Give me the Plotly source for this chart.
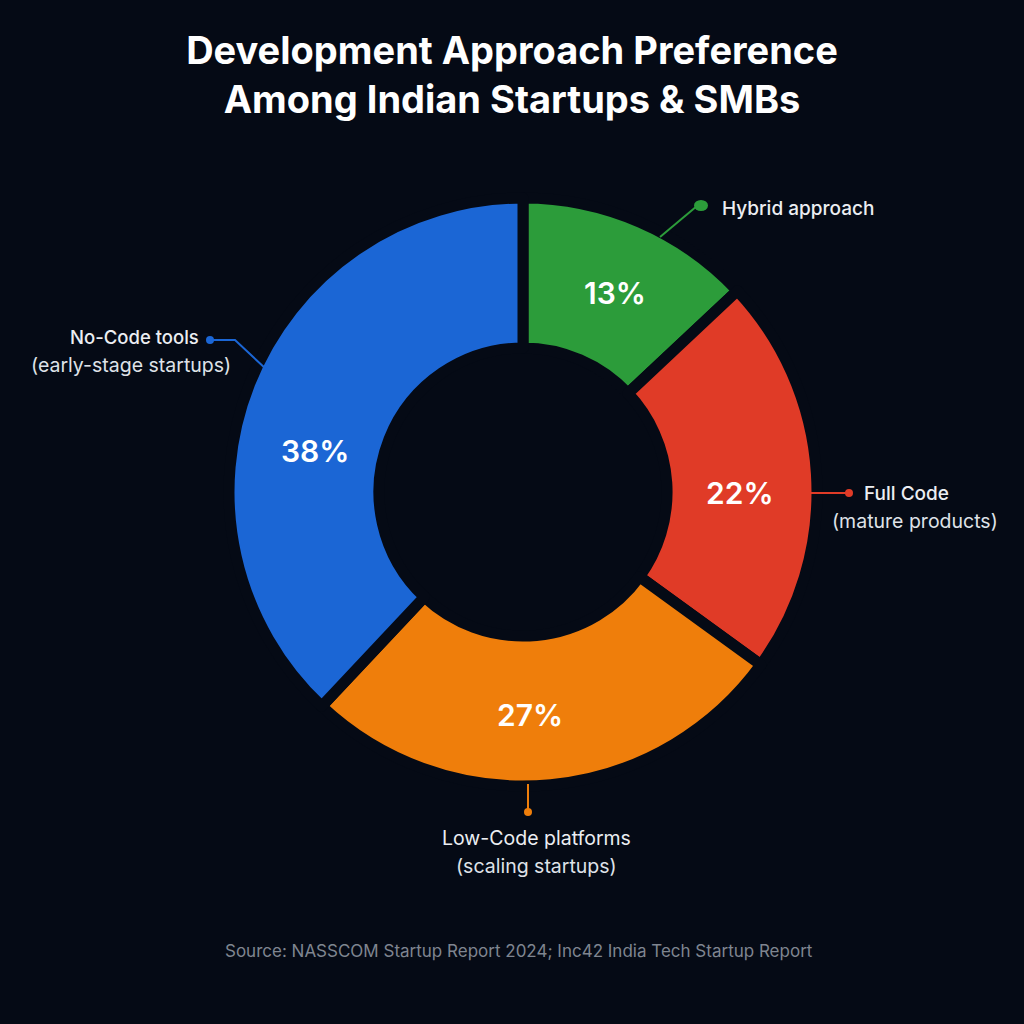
import plotly.graph_objects as go

# ---- data ----
categories = ["Hybrid approach", "Full Code", "Low-Code platforms", "No-Code tools"]
subtitles = ["", "(mature products)", "(scaling startups)", "(early-stage startups)"]
values = [13, 22, 27, 38]
colors = ["#2c9c3a", "#e03b27", "#ef7e0b", "#1b66d5"]

BG = "#050a15"
W = H = 1024

cx, cy, R = 523, 492, 294


def px(x):
    return x / W


def py(y):
    return 1 - y / H


fig = go.Figure()
fig.add_trace(go.Pie(
    labels=categories,
    values=values,
    sort=False,
    direction="clockwise",
    rotation=0,
    hole=0.49,
    marker=dict(colors=colors, line=dict(color=BG, width=11)),
    textinfo="none",
    domain=dict(x=[px(cx - R), px(cx + R)], y=[py(cy + R), py(cy - R)]),
    showlegend=False,
    hoverinfo="label+value",
))

shapes = []
annotations = []

# percentage labels inside the ring (text from values)
pct_pos = [(615, 293), (740, 493), (530, 715), (315, 451)]
for v, (x, y) in zip(values, pct_pos):
    annotations.append(dict(x=px(x), y=py(y), xref="paper", yref="paper",
                            xanchor="center", yanchor="middle", showarrow=False,
                            text=f"{v}%",
                            font=dict(family="Inter", size=30, color="white", weight=600)))

line_w = 2
LBL = "#eceef2"
SUB = "#dfe2e8"

# Hybrid leader
shapes.append(dict(type="line", xref="paper", yref="paper",
                   x0=px(660), y0=py(237), x1=px(697), y1=py(206),
                   line=dict(color=colors[0], width=line_w)))
shapes.append(dict(type="circle", xref="paper", yref="paper",
                   x0=px(694), y0=py(200), x1=px(708), y1=py(211),
                   fillcolor=colors[0], line=dict(width=0)))
annotations.append(dict(x=px(720), y=py(208), xref="paper", yref="paper",
                        xanchor="left", yanchor="middle", showarrow=False,
                        text=categories[0],
                        font=dict(family="Inter", size=19, color=LBL, weight=500)))

# Full Code leader
shapes.append(dict(type="line", xref="paper", yref="paper",
                   x0=px(806), y0=py(493), x1=px(849), y1=py(493),
                   line=dict(color=colors[1], width=line_w)))
shapes.append(dict(type="circle", xref="paper", yref="paper",
                   x0=px(845), y0=py(489), x1=px(853), y1=py(497),
                   fillcolor=colors[1], line=dict(width=0)))
annotations.append(dict(x=px(906), y=py(493), xref="paper", yref="paper",
                        xanchor="center", yanchor="middle", showarrow=False,
                        text=categories[1],
                        font=dict(family="Inter", size=19, color=LBL, weight=500)))
annotations.append(dict(x=px(915), y=py(521), xref="paper", yref="paper",
                        xanchor="center", yanchor="middle", showarrow=False,
                        text=subtitles[1],
                        font=dict(family="Inter", size=19.5, color=SUB)))

# Low-Code leader
shapes.append(dict(type="line", xref="paper", yref="paper",
                   x0=px(528), y0=py(784), x1=px(528), y1=py(812),
                   line=dict(color=colors[2], width=line_w)))
shapes.append(dict(type="circle", xref="paper", yref="paper",
                   x0=px(524), y0=py(808), x1=px(532), y1=py(816),
                   fillcolor=colors[2], line=dict(width=0)))
annotations.append(dict(x=px(536), y=py(838), xref="paper", yref="paper",
                        xanchor="center", yanchor="middle", showarrow=False,
                        text=categories[2],
                        font=dict(family="Inter", size=19.5, color=LBL)))
annotations.append(dict(x=px(536), y=py(866), xref="paper", yref="paper",
                        xanchor="center", yanchor="middle", showarrow=False,
                        text=subtitles[2],
                        font=dict(family="Inter", size=19.5, color=SUB)))

# No-Code leader
shapes.append(dict(type="path", xref="paper", yref="paper",
                   path=f"M {px(210)} {py(340)} L {px(235)} {py(340)} L {px(266)} {py(369)}",
                   line=dict(color=colors[3], width=line_w)))
shapes.append(dict(type="circle", xref="paper", yref="paper",
                   x0=px(206), y0=py(336), x1=px(214), y1=py(344),
                   fillcolor=colors[3], line=dict(width=0)))
annotations.append(dict(x=px(134), y=py(337), xref="paper", yref="paper",
                        xanchor="center", yanchor="middle", showarrow=False,
                        text=categories[3],
                        font=dict(family="Inter", size=18.5, color=LBL, weight=500)))
annotations.append(dict(x=px(131), y=py(365), xref="paper", yref="paper",
                        xanchor="center", yanchor="middle", showarrow=False,
                        text=subtitles[3],
                        font=dict(family="Inter", size=19.5, color=SUB)))

# Source
annotations.append(dict(x=px(519), y=py(951), xref="paper", yref="paper",
                        xanchor="center", yanchor="middle", showarrow=False,
                        text="Source: NASSCOM Startup Report 2024; Inc42 India Tech Startup Report",
                        font=dict(family="Inter", size=17, color="#7f8590")))

fig.update_layout(
    width=W, height=H,
    margin=dict(l=0, r=0, t=0, b=0),
    paper_bgcolor=BG,
    plot_bgcolor=BG,
    title=dict(
        text="Development Approach Preference<br>Among Indian Startups & SMBs",
        x=0.5, xanchor="center", y=py(64), yanchor="middle",
        font=dict(family="Inter", size=38, color="white", weight=700),
    ),
    shapes=shapes,
    annotations=annotations,
)

fig.write_html("out.html")
